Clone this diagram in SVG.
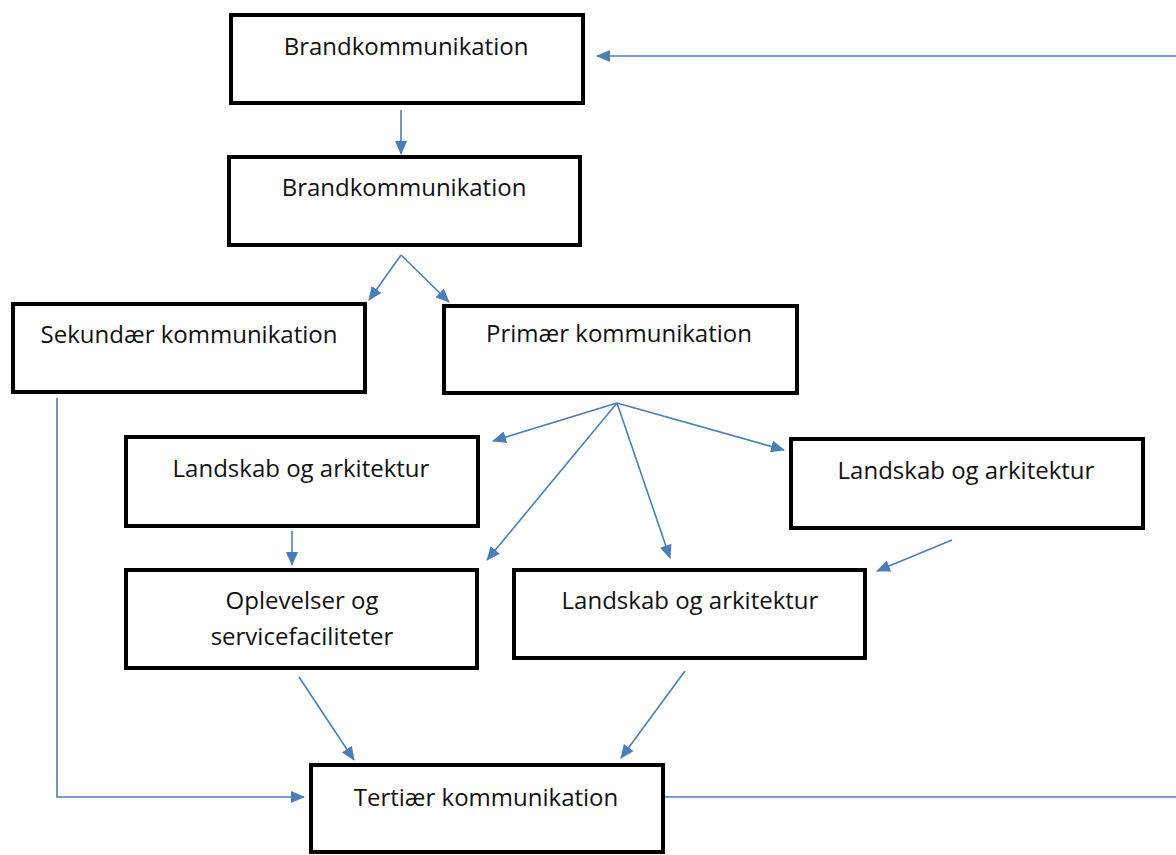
<svg xmlns="http://www.w3.org/2000/svg" width="1176" height="855" viewBox="0 0 1176 855">
<style>
.box{fill:#fff;stroke:#000;stroke-width:4}
.t{font-family:"Open Sans","Liberation Sans",Arial,sans-serif;font-size:24px;fill:#111;text-anchor:middle}
.c{fill:none;stroke:#4a7ebb;stroke-width:1.6}
</style>
<defs>
<marker id="ah" viewBox="0 0 14 12" refX="13" refY="6" markerWidth="14" markerHeight="12" markerUnits="userSpaceOnUse" orient="auto">
<path d="M0,0 L14,6 L0,12 z" fill="#4a7ebb"/>
</marker>
</defs>
<rect width="1176" height="855" fill="#fff"/>
<g id="connectors">
<line class="c" x1="401" y1="110" x2="401" y2="154" marker-end="url(#ah)"/>
<line class="c" x1="401" y1="255" x2="369" y2="300" marker-end="url(#ah)"/>
<line class="c" x1="401" y1="255" x2="449" y2="302" marker-end="url(#ah)"/>
<line class="c" x1="617" y1="403" x2="493" y2="441" marker-end="url(#ah)"/>
<line class="c" x1="617" y1="403" x2="487" y2="560" marker-end="url(#ah)"/>
<line class="c" x1="617" y1="403" x2="670" y2="558" marker-end="url(#ah)"/>
<line class="c" x1="617" y1="403" x2="784" y2="450" marker-end="url(#ah)"/>
<line class="c" x1="292" y1="531" x2="292" y2="565" marker-end="url(#ah)"/>
<line class="c" x1="952" y1="540" x2="877" y2="571" marker-end="url(#ah)"/>
<line class="c" x1="299" y1="677" x2="354" y2="760" marker-end="url(#ah)"/>
<line class="c" x1="685" y1="671" x2="621" y2="758" marker-end="url(#ah)"/>
<polyline class="c" points="57,398 57,797 304,797" marker-end="url(#ah)"/>
<line class="c" x1="663" y1="797" x2="1176" y2="797"/>
<line class="c" x1="1176" y1="56" x2="597" y2="56" marker-end="url(#ah)"/>
</g>
<g id="brand1"><rect class="box" x="231" y="15" width="352" height="88"/><text class="t" x="406" y="55">Brandkommunikation</text></g>
<g id="brand2"><rect class="box" x="229" y="157" width="351" height="88"/><text class="t" x="404" y="196">Brandkommunikation</text></g>
<g id="sekundaer"><rect class="box" x="13" y="304" width="352" height="88"/><text class="t" x="189" y="343">Sekundær kommunikation</text></g>
<g id="primaer"><rect class="box" x="444" y="306" width="353" height="87"/><text class="t" x="619" y="342">Primær kommunikation</text></g>
<g id="landskab1"><rect class="box" x="126" y="437" width="352" height="89"/><text class="t" x="301" y="477">Landskab og arkitektur</text></g>
<g id="landskab2"><rect class="box" x="791" y="439" width="352" height="89"/><text class="t" x="966" y="479">Landskab og arkitektur</text></g>
<g id="oplevelser"><rect class="box" x="126" y="570" width="351" height="98"/><text class="t" x="302" y="609">Oplevelser og</text><text class="t" x="302" y="645">servicefaciliteter</text></g>
<g id="landskab3"><rect class="box" x="514" y="570" width="351" height="88"/><text class="t" x="690" y="609">Landskab og arkitektur</text></g>
<g id="tertiaer"><rect class="box" x="311" y="765" width="352" height="87"/><text class="t" x="486" y="806">Tertiær kommunikation</text></g>
</svg>
